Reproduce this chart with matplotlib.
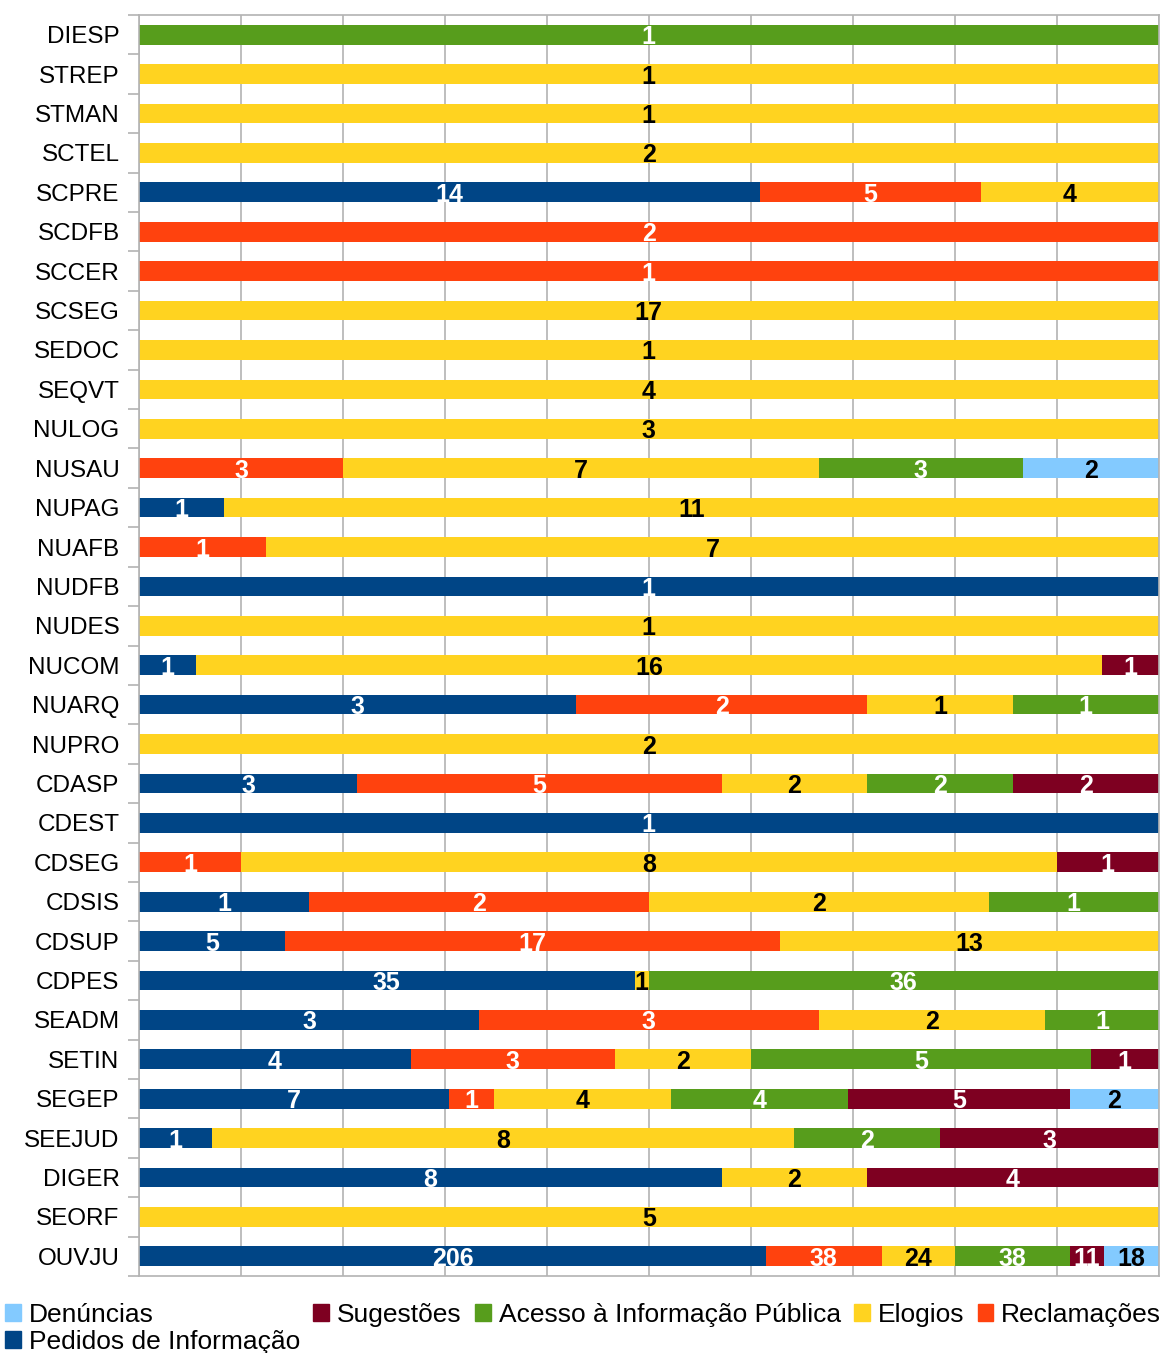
import numpy as np
import matplotlib.pyplot as plt
from matplotlib.patches import Patch

plt.rcParams['font.family'] = ['Liberation Sans', 'DejaVu Sans']

categories = ['DIESP', 'STREP', 'STMAN', 'SCTEL', 'SCPRE', 'SCDFB', 'SCCER', 'SCSEG',
              'SEDOC', 'SEQVT', 'NULOG', 'NUSAU', 'NUPAG', 'NUAFB', 'NUDFB', 'NUDES',
              'NUCOM', 'NUARQ', 'NUPRO', 'CDASP', 'CDEST', 'CDSEG', 'CDSIS', 'CDSUP',
              'CDPES', 'SEADM', 'SETIN', 'SEGEP', 'SEEJUD', 'DIGER', 'SEORF', 'OUVJU']

pedidos     = [0, 0, 0, 0, 14, 0, 0, 0, 0, 0, 0, 0, 1, 0, 1, 0, 1, 3, 0, 3, 1, 0, 1, 5, 35, 3, 4, 7, 1, 8, 0, 206]
reclamacoes = [0, 0, 0, 0, 5, 2, 1, 0, 0, 0, 0, 3, 0, 1, 0, 0, 0, 2, 0, 5, 0, 1, 2, 17, 0, 3, 3, 1, 0, 0, 0, 38]
elogios     = [0, 1, 1, 2, 4, 0, 0, 17, 1, 4, 3, 7, 11, 7, 0, 1, 16, 1, 2, 2, 0, 8, 2, 13, 1, 2, 2, 4, 8, 2, 5, 24]
acesso      = [1, 0, 0, 0, 0, 0, 0, 0, 0, 0, 0, 3, 0, 0, 0, 0, 0, 1, 0, 2, 0, 0, 1, 0, 36, 1, 5, 4, 2, 0, 0, 38]
sugestoes   = [0, 0, 0, 0, 0, 0, 0, 0, 0, 0, 0, 0, 0, 0, 0, 0, 1, 0, 0, 2, 0, 1, 0, 0, 0, 0, 1, 5, 3, 4, 0, 11]
denuncias   = [0, 0, 0, 0, 0, 0, 0, 0, 0, 0, 0, 2, 0, 0, 0, 0, 0, 0, 0, 0, 0, 0, 0, 0, 0, 0, 0, 2, 0, 0, 0, 18]

series = [
    ('Pedidos de Informação', pedidos, '#004586', 'white'),
    ('Reclamações', reclamacoes, '#ff420e', 'white'),
    ('Elogios', elogios, '#ffd320', 'black'),
    ('Acesso à Informação Pública', acesso, '#579d1c', 'white'),
    ('Sugestões', sugestoes, '#7e0021', 'white'),
    ('Denúncias', denuncias, '#83caff', 'black'),
]

data = np.array([s[1] for s in series], dtype=float)
totals = data.sum(axis=0)
pct = data / totals

fig = plt.figure(figsize=(11.68, 13.53), dpi=100)
ax = fig.add_axes([0.119, 0.0569, 0.873, 0.932])

y = np.arange(len(categories))
left = np.zeros(len(categories))
for i, (name, vals, color, tcolor) in enumerate(series):
    w = pct[i]
    ax.barh(y, w, left=left, height=0.5, color=color, zorder=2)
    for j in range(len(categories)):
        if vals[j] > 0:
            ax.text(left[j] + w[j] / 2, y[j], str(vals[j]), ha='center', va='center_baseline',
                    color=tcolor, fontsize=18, fontweight='bold', zorder=3)
    left += w

ax.set_xlim(0, 1)
ax.set_ylim(len(categories) - 0.5, -0.5)
ax.set_yticks(y)
ax.set_yticklabels(categories, fontsize=17.5)
ax.tick_params(axis='y', which='major', length=0, pad=14)
ax.set_yticks(np.arange(len(categories) + 1) - 0.5, minor=True)
ax.tick_params(axis='y', which='minor', length=8, color='#b3b3b3', width=1.2)
ax.set_xticks(np.arange(0, 1.01, 0.1))
ax.tick_params(axis='x', length=0, labelbottom=False)
ax.grid(axis='x', color='#b3b3b3', linewidth=1.2, zorder=0)
for sp in ax.spines.values():
    sp.set_color('#b3b3b3')
    sp.set_linewidth(1.2)

# legend order: Denúncias / Pedidos in first column, then the rest
by_name = {s[0]: s for s in series}
order = ['Denúncias', 'Pedidos de Informação', 'Sugestões',
         'Acesso à Informação Pública', 'Elogios', 'Reclamações']
handles = [Patch(facecolor=by_name[n][2], edgecolor=by_name[n][2], label=n) for n in order]
fig.legend(handles=handles, loc='upper left', bbox_to_anchor=(0.0, 0.041), ncol=5,
           frameon=False, fontsize=19, handlelength=0.6, handleheight=0.6,
           handletextpad=0.3, columnspacing=0.5, labelspacing=0.12, borderaxespad=0,
           borderpad=0.2)

fig.savefig('out.png', dpi=100)
